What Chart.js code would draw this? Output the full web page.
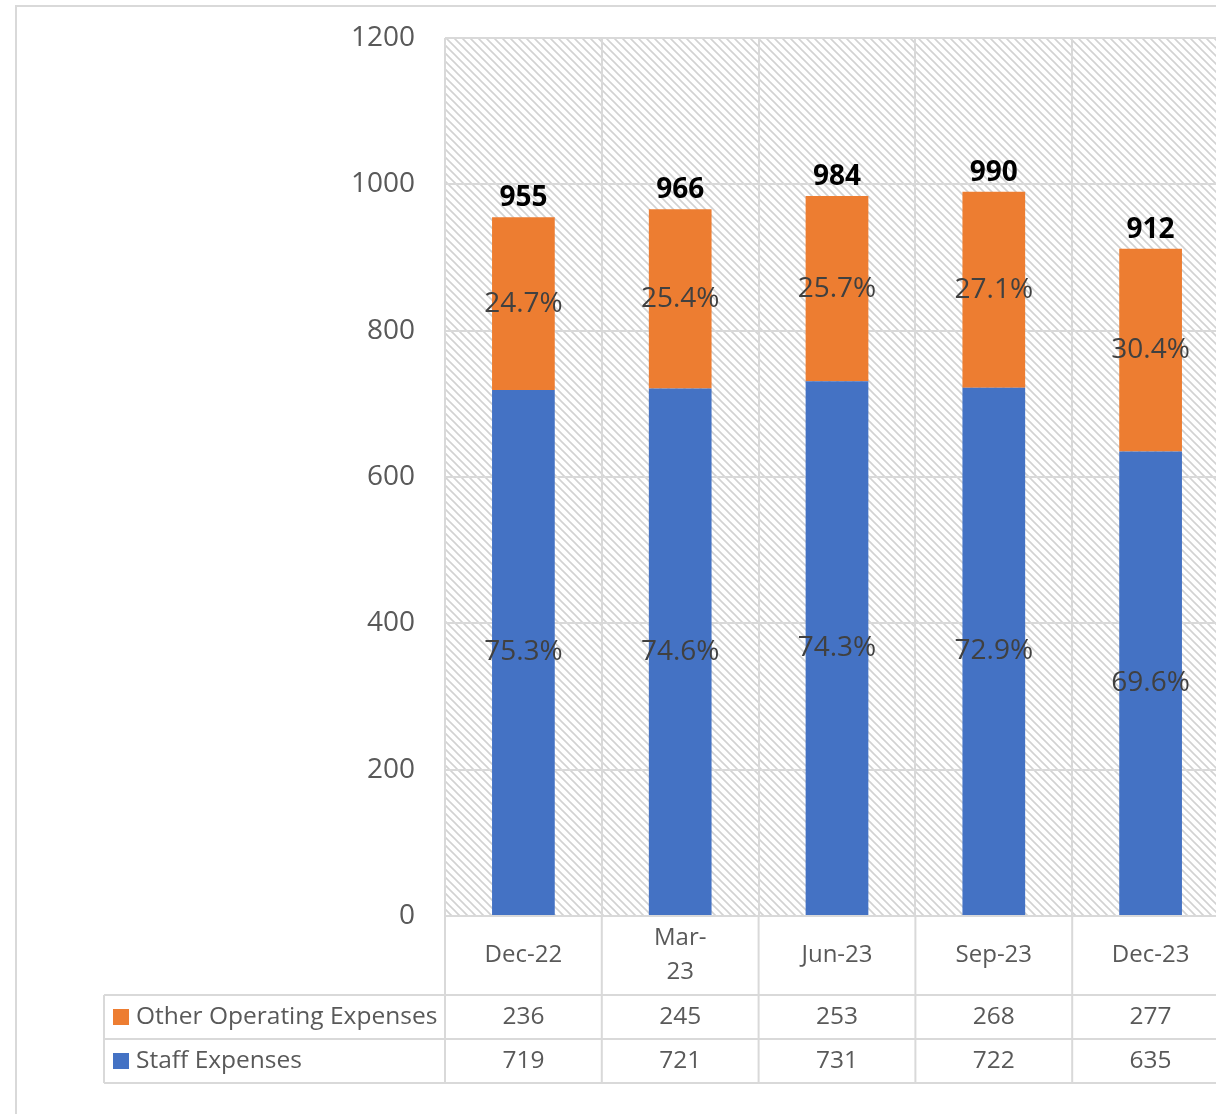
<!DOCTYPE html>
<html>
<head>
<meta charset="utf-8">
<script src="https://cdn.jsdelivr.net/npm/chart.js@4.4.0/dist/chart.umd.min.js"></script>
<style>
  html, body { margin: 0; padding: 0; background: #fff; overflow: hidden; }
  #frame { position: absolute; left: 15px; top: 5px; width: 1300px; height: 1200px;
           border-left: 2px solid #d9d9d9; border-top: 2px solid #d9d9d9; }
  #wrap { position: absolute; left: 0; top: 0; width: 1240px; height: 1114px; }
</style>
</head>
<body>
<div id="frame"></div>
<div id="wrap"><canvas id="costChart"></canvas></div>
<script>
// values
var quarters = ['Dec-22', ['Mar-', '23'], 'Jun-23', 'Sep-23', 'Dec-23'];
var otherExpenses = [236, 245, 253, 268, 277];
var staffExpenses = [719, 721, 731, 722, 635];
var totals = [955, 966, 984, 990, 912];
var otherShare = ['24.7%', '25.4%', '25.7%', '27.1%', '30.4%'];
var staffShare = ['75.3%', '74.6%', '74.3%', '72.9%', '69.6%'];
var yTicks = [0, 200, 400, 600, 800, 1000, 1200];

var FONT = "'Open Sans', sans-serif";
var ORANGE = '#ED7D31';
var BLUE = '#4472C4';
var LINE = '#d9d9d9';

// hatched plot background
var tile = document.createElement('canvas');
tile.width = 8; tile.height = 8;
var t = tile.getContext('2d');
t.fillStyle = '#ffffff';
t.fillRect(0, 0, 8, 8);
t.strokeStyle = '#d2d2d2';
t.lineWidth = 1.6;
t.beginPath();
t.moveTo(-1, -1); t.lineTo(9, 9);
t.moveTo(-1, 7); t.lineTo(1, 9);
t.moveTo(7, -1); t.lineTo(9, 1);
t.stroke();

var hatchPlugin = {
    id: 'hatch',
    beforeDraw: function (chart) {
        var a = chart.chartArea;
        var ctx = chart.ctx;
        ctx.save();
        ctx.fillStyle = ctx.createPattern(tile, 'repeat');
        ctx.fillRect(a.left, a.top, a.right - a.left, a.bottom - a.top);
        ctx.restore();
    }
};

var labelPlugin = {
    id: 'barLabels',
    afterDatasetsDraw: function (chart) {
        var ctx = chart.ctx;
        var staffBars = chart.getDatasetMeta(0).data;
        var otherBars = chart.getDatasetMeta(1).data;
        ctx.save();
        ctx.textAlign = 'center';
        ctx.textBaseline = 'middle';
        ctx.font = '28px ' + FONT;
        ctx.fillStyle = '#404040';
        staffBars.forEach(function (bar, i) {
            ctx.fillText(staffShare[i], bar.x, (bar.y + bar.base) / 2);
        });
        otherBars.forEach(function (bar, i) {
            ctx.fillText(otherShare[i], bar.x, (bar.y + bar.base) / 2);
        });
        ctx.font = 'bold 28px ' + FONT;
        ctx.fillStyle = '#000000';
        otherBars.forEach(function (bar, i) {
            ctx.fillText(String(totals[i]), bar.x, bar.y - 19);
        });
        ctx.restore();
    }
};

// data table under the axis
var tablePlugin = {
    id: 'dataTable',
    afterDraw: function (chart) {
        var ctx = chart.ctx;
        var x = chart.scales.x;
        var a = chart.chartArea;
        var n = quarters.length;
        var cw = (x.right - x.left) / n;
        var row1 = a.bottom + 79;
        var rowH = 44;
        var tableLeft = 104;
        var rows = [
            { name: 'Other Operating Expenses', color: ORANGE, values: otherExpenses },
            { name: 'Staff Expenses', color: BLUE, values: staffExpenses }
        ];
        ctx.save();
        ctx.strokeStyle = LINE;
        ctx.lineWidth = 2;
        ctx.beginPath();
        for (var i = 0; i <= n; i++) {
            var bx = x.left + i * cw;
            ctx.moveTo(bx, a.bottom);
            ctx.lineTo(bx, row1 + rowH * 2);
        }
        ctx.moveTo(tableLeft, row1);
        ctx.lineTo(tableLeft, row1 + rowH * 2);
        for (var r = 0; r <= 2; r++) {
            ctx.moveTo(tableLeft, row1 + r * rowH);
            ctx.lineTo(x.right + 20, row1 + r * rowH);
        }
        ctx.stroke();

        ctx.textBaseline = 'middle';
        ctx.font = '24.5px ' + FONT;
        rows.forEach(function (row, r) {
            var cy = row1 + r * rowH + rowH / 2;
            ctx.fillStyle = row.color;
            ctx.fillRect(113, cy - 8, 16, 16);
            ctx.fillStyle = '#595959';
            ctx.textAlign = 'left';
            ctx.fillText(row.name, 136, cy);
            ctx.textAlign = 'center';
            row.values.forEach(function (v, i) {
                ctx.fillText(String(v), x.getPixelForValue(i), cy);
            });
        });
        ctx.restore();
    }
};

var ctx = document.getElementById('costChart').getContext('2d');
var costChart = new Chart(ctx, {
    type: 'bar',
    data: {
        labels: quarters,
        datasets: [{
            label: 'Staff Expenses',
            data: staffExpenses,
            backgroundColor: BLUE
        }, {
            label: 'Other Operating Expenses',
            data: otherExpenses,
            backgroundColor: ORANGE
        }]
    },
    options: {
        responsive: true,
        maintainAspectRatio: false,
        devicePixelRatio: 1,
        animation: false,
        categoryPercentage: 1,
        barPercentage: 0.4,
        layout: {
            padding: { left: 0, top: 38, right: 11, bottom: 119 }
        },
        plugins: {
            legend: { display: false },
            tooltip: { enabled: false }
        },
        scales: {
            x: {
                stacked: true,
                offset: true,
                grid: { color: LINE, lineWidth: 2, drawTicks: false, offset: true },
                border: { display: false },
                ticks: {
                    color: '#595959',
                    font: { family: FONT, size: 24, lineHeight: 1.42 },
                    padding: 22,
                    crossAlign: 'center',
                    maxRotation: 0,
                    autoSkip: false
                },
                afterFit: function (scale) { scale.height = 79; }
            },
            y: {
                stacked: true,
                min: yTicks[0],
                max: yTicks[yTicks.length - 1],
                grid: { color: LINE, lineWidth: 2, drawTicks: true, tickLength: 30, tickColor: 'rgba(0,0,0,0)' },
                border: { display: false },
                ticks: {
                    stepSize: yTicks[1] - yTicks[0],
                    color: '#595959',
                    font: { family: FONT, size: 28 },
                    padding: 0,
                    callback: function (value) { return String(value); }
                },
                afterFit: function (scale) { scale.width = 445; }
            }
        }
    },
    plugins: [hatchPlugin, labelPlugin, tablePlugin]
});
</script>
</body>
</html>
